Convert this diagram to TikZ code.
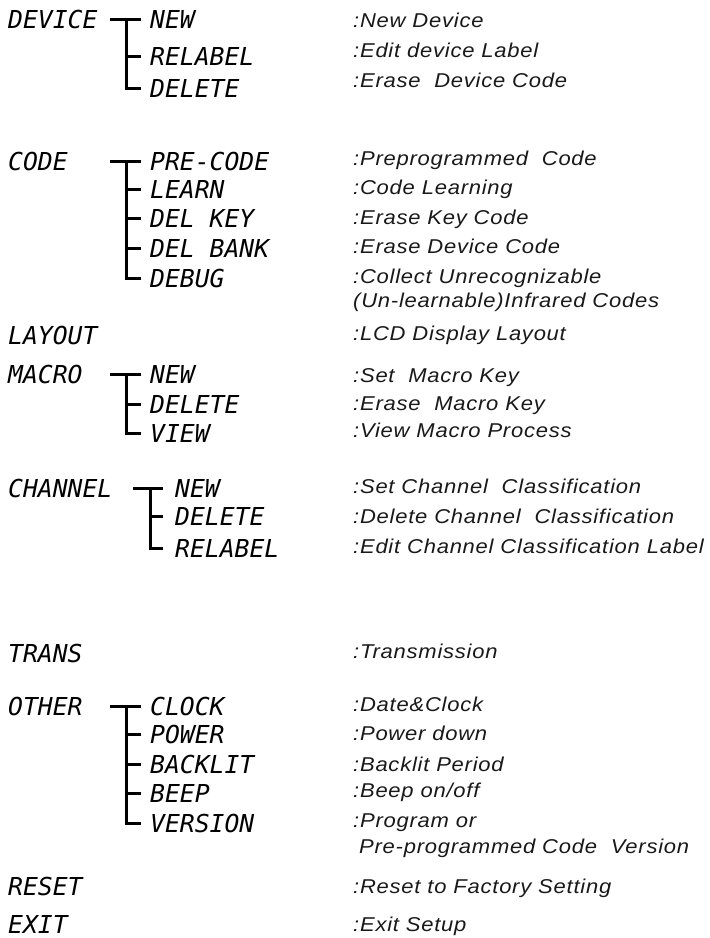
\documentclass[tikz,border=0pt]{standalone}
\usepackage{fontspec}
\newfontfamily\lcdfam{DejaVu Sans Mono}
\newfontfamily\descfam{Liberation Sans}[LetterSpace=3.8,FakeStretch=1.1]
\newcommand{\lcdfont}{\lcdfam\itshape\fontsize{24.7}{26}\selectfont}
\newcommand{\descfont}{\descfam\itshape\fontsize{20}{22}\selectfont}
\begin{document}
\begin{tikzpicture}[x=1pt,y=-1pt,
  lcd/.style={anchor=base west, inner sep=0pt, font=\lcdfont},
  dsc/.style={anchor=base west, inner sep=0pt, font=\descfont, text=black!90},
  tree/.style={line width=3pt, shorten >=9pt},
  treec/.style={line width=3pt, shorten >=12pt}]
\useasboundingbox[fill=white] (0,0) rectangle (710,938);
% ---------- DEVICE
\node[lcd] (dev) at (8,28) {DEVICE};
\node[lcd] (devA) at (150,28) {NEW};
\node[lcd] (devB) at (150,65) {RELABEL};
\node[lcd] (devC) at (150,97) {DELETE};
\coordinate (devS) at (110,0 |- devA.west);
\coordinate (devJ) at (126,0 |- devA.west);
\draw[tree] (devS) -- (devA.west);
\draw[tree] (devJ) |- (devB.west);
\draw[tree] (devJ) |- (devC.west);
\node[dsc] (ddevA) at (353,27) {:New Device};
\node[dsc] (ddevB) at (353,57) {:Edit device Label};
\node[dsc] (ddevC) at (353,87) {:Erase\ \ Device Code};
% ---------- CODE
\node[lcd] (code) at (8,170) {CODE};
\node[lcd] (codA) at (150,170) {PRE-CODE};
\node[lcd] (codB) at (150,198) {LEARN};
\node[lcd] (codC) at (150,227) {DEL KEY};
\node[lcd] (codD) at (150,257) {DEL BANK};
\node[lcd] (codE) at (150,287) {DEBUG};
\coordinate (codS) at (110,0 |- codA.west);
\coordinate (codJ) at (126,0 |- codA.west);
\draw[tree] (codS) -- (codA.west);
\draw[tree] (codJ) |- (codB.west);
\draw[tree] (codJ) |- (codC.west);
\draw[tree] (codJ) |- (codD.west);
\draw[tree] (codJ) |- (codE.west);
\node[dsc] (dcodA) at (353,165) {:Preprogrammed\ \ Code};
\node[dsc] (dcodB) at (353,194) {:Code Learning};
\node[dsc] (dcodC) at (353,224) {:Erase Key Code};
\node[dsc] (dcodD) at (353,253) {:Erase Device Code};
\node[dsc] (dcodE) at (353,283) {:Collect Unrecognizable};
\node[dsc] (dcodF) at (353,307) {(Un-learnable)Infrared Codes};
% ---------- LAYOUT
\node[lcd] (lay) at (8,344) {LAYOUT};
\node[dsc] (dlay) at (353,340) {:LCD Display Layout};
% ---------- MACRO
\node[lcd] (mac) at (8,383) {MACRO};
\node[lcd] (macA) at (150,383) {NEW};
\node[lcd] (macB) at (150,413) {DELETE};
\node[lcd] (macC) at (150,442) {VIEW};
\coordinate (macS) at (110,0 |- macA.west);
\coordinate (macJ) at (126,0 |- macA.west);
\draw[tree] (macS) -- (macA.west);
\draw[tree] (macJ) |- (macB.west);
\draw[tree] (macJ) |- (macC.west);
\node[dsc] (dmacA) at (353,382) {:Set\ \ Macro Key};
\node[dsc] (dmacB) at (353,410) {:Erase\ \ Macro Key};
\node[dsc] (dmacC) at (353,437) {:View Macro Process};
% ---------- CHANNEL
\node[lcd] (chn) at (8,497) {CHANNEL};
\node[lcd] (chnA) at (175,497) {NEW};
\node[lcd] (chnB) at (175,525) {DELETE};
\node[lcd] (chnC) at (175,557) {RELABEL};
\coordinate (chnS) at (133,0 |- chnA.west);
\coordinate (chnJ) at (150,0 |- chnA.west);
\draw[treec] (chnS) -- (chnA.west);
\draw[treec] (chnJ) |- (chnB.west);
\draw[treec] (chnJ) |- (chnC.west);
\node[dsc] (dchnA) at (353,493) {:Set Channel\ \ Classification};
\node[dsc] (dchnB) at (353,523) {:Delete Channel\ \ Classification};
\node[dsc] (dchnC) at (353,553) {:Edit Channel Classification Label};
% ---------- TRANS
\node[lcd] (trn) at (8,662) {TRANS};
\node[dsc] (dtrn) at (353,658) {:Transmission};
% ---------- OTHER
\node[lcd] (oth) at (8,715) {OTHER};
\node[lcd] (othA) at (150,715) {CLOCK};
\node[lcd] (othB) at (150,743) {POWER};
\node[lcd] (othC) at (150,773) {BACKLIT};
\node[lcd] (othD) at (150,802) {BEEP};
\node[lcd] (othE) at (150,832) {VERSION};
\coordinate (othS) at (110,0 |- othA.west);
\coordinate (othJ) at (126,0 |- othA.west);
\draw[tree] (othS) -- (othA.west);
\draw[tree] (othJ) |- (othB.west);
\draw[tree] (othJ) |- (othC.west);
\draw[tree] (othJ) |- (othD.west);
\draw[tree] (othJ) |- (othE.west);
\node[dsc] (dothA) at (353,711) {:Date\&Clock};
\node[dsc] (dothB) at (353,740) {:Power down};
\node[dsc] (dothC) at (353,771) {:Backlit Period};
\node[dsc] (dothD) at (353,797) {:Beep on/off};
\node[dsc] (dothE) at (353,827) {:Program or};
\node[dsc] (dothF) at (359,853) {Pre-programmed Code\ \ Version};
% ---------- RESET / EXIT
\node[lcd] (rst) at (8,895) {RESET};
\node[dsc] (drst) at (353,893) {:Reset to Factory Setting};
\node[lcd] (ext) at (8,933) {EXIT};
\node[dsc] (dext) at (353,931) {:Exit Setup};
\end{tikzpicture}
\end{document}
